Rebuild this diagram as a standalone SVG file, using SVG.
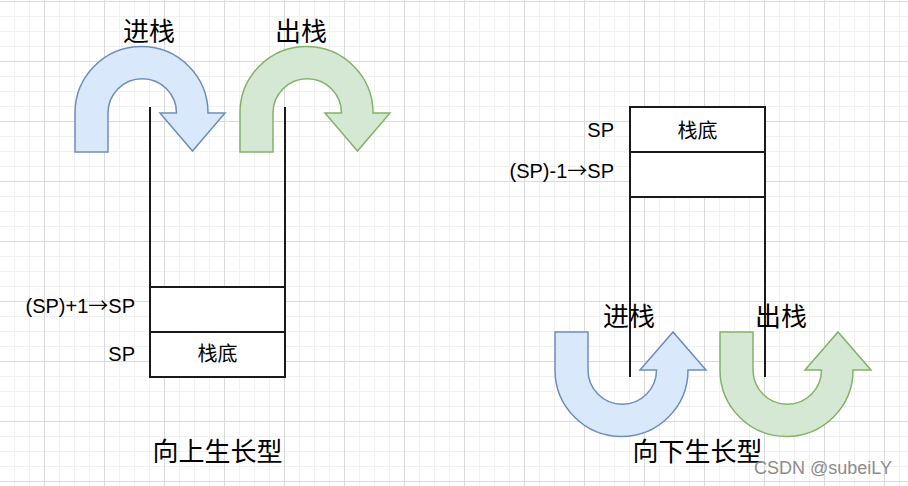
<svg xmlns="http://www.w3.org/2000/svg" width="908" height="486" viewBox="0 0 908 486">
  <style>
    .cjk { font-family: "Noto Sans CJK SC", "Noto Sans", sans-serif; fill: #000; }
    .lat { font-family: "Liberation Sans", "Noto Sans CJK SC", sans-serif; fill: #000; font-size: 20px; }
    .arr { font-family: "Noto Sans CJK SC", sans-serif; }
    .title { font-size: 26px; text-anchor: middle; }
    .cell { fill: #fff; stroke: #1a1a1a; stroke-width: 2; }
    .wall { stroke: #1a1a1a; stroke-width: 2; fill: none; }
    .blue { fill: #dae8fc; stroke: #6c8ebf; stroke-width: 1.5; }
    .green { fill: #d5e8d4; stroke: #82b366; stroke-width: 1.5; }
  </style>
  <defs>
    <pattern id="grid" patternUnits="userSpaceOnUse" x="44" y="1" width="60" height="60">
      <path d="M15.5 0V60M30.5 0V60M45.5 0V60M0 15.5H60M0 30.5H60M0 45.5H60" stroke="#f1f1f1" stroke-width="1" fill="none"/>
      <path d="M0.5 0V60M0 0.5H60" stroke="#dadada" stroke-width="1" fill="none"/>
    </pattern>
  </defs>
  <rect width="908" height="486" fill="#fff"/>
  <rect width="908" height="486" fill="url(#grid)"/>

  <g id="arrow-push-up">
    <path class="blue" d="M75 152 L75 113 A66.5 66.5 0 0 1 208 113 L225 113 L192.5 151 L160 113 L176.5 113 A34.25 34.25 0 0 0 108 113 L108 152 Z"/>
  </g>
  <g id="arrow-pop-up">
    <path class="green" d="M240 152 L240 113 A66.5 66.5 0 0 1 373 113 L390 113 L357.5 151 L325 113 L341.5 113 A34.25 34.25 0 0 0 273 113 L273 152 Z"/>
  </g>
  <g id="arrow-push-down">
    <path class="blue" d="M555 332 L555 370 A66.5 66.5 0 0 0 688 370 L706 370 L673 332 L640 370 L656.5 370 A34.25 34.25 0 0 1 588 370 L588 332 Z"/>
  </g>
  <g id="arrow-pop-down">
    <path class="green" d="M720 332 L720 370 A66.5 66.5 0 0 0 853 370 L871 370 L838 332 L805 370 L821.5 370 A34.25 34.25 0 0 1 753 370 L753 332 Z"/>
  </g>

  <g id="stack-up">
    <path class="wall" d="M150 107 V287 M285 107 V287"/>
    <rect class="cell" x="150" y="287" width="135" height="45"/>
    <rect class="cell" x="150" y="332" width="135" height="45"/>
    <text class="cjk" x="217.5" y="361" font-size="20" text-anchor="middle">栈底</text>
  </g>
  <g id="stack-down">
    <rect class="cell" x="630" y="107" width="135" height="45"/>
    <rect class="cell" x="630" y="152" width="135" height="45"/>
    <path class="wall" d="M630 197 V377 M765 197 V377"/>
    <text class="cjk" x="697.5" y="138" font-size="20" text-anchor="middle">栈底</text>
  </g>

  <g id="labels">
    <text class="cjk title" x="149" y="41">进栈</text>
    <text class="cjk title" x="301" y="41">出栈</text>
    <text class="cjk title" x="629" y="326">进栈</text>
    <text class="cjk title" x="781" y="326">出栈</text>
    <text class="lat" x="135" y="313" text-anchor="end">(SP)+1<tspan class="arr">→</tspan>SP</text>
    <text class="lat" x="135" y="361" text-anchor="end">SP</text>
    <text class="lat" x="614" y="137" text-anchor="end">SP</text>
    <text class="lat" x="614" y="178" text-anchor="end">(SP)-1<tspan class="arr">→</tspan>SP</text>
    <text class="cjk title" x="217.5" y="461">向上生长型</text>
    <text class="cjk title" x="697.5" y="461">向下生长型</text>
    <text x="892" y="474" font-family="Liberation Sans, sans-serif" font-size="18" fill="#8c8c8c" text-anchor="end">CSDN @subeiLY</text>
  </g>
</svg>
